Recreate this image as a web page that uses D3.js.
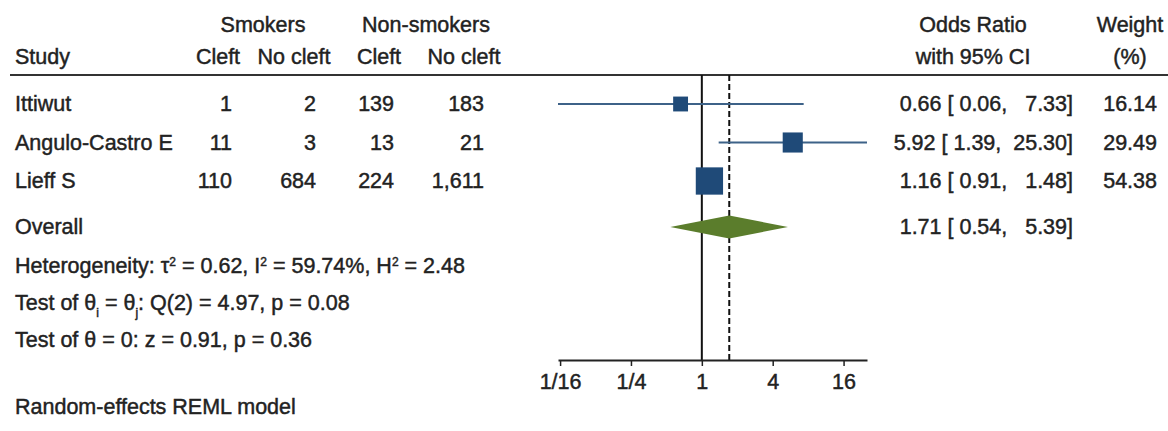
<!DOCTYPE html>
<html>
<head>
<meta charset="utf-8">
<script src="https://cdn.jsdelivr.net/npm/d3@7"></script>
<style>
  html, body { margin: 0; padding: 0; background: #fff; }
  svg { display: block; }
  text {
    font-family: "Liberation Sans", Arial, sans-serif;
    font-size: 21.5px;
    fill: #222;
    stroke: #222;
    stroke-width: 0.45px;
    white-space: pre;
  }
</style>
</head>
<body>
<svg id="chart" width="1168" height="431"></svg>
<script>
// Study-level counts
const studies = ["Ittiwut", "Angulo-Castro E", "Lieff S"];
const smokersCleft = [1, 11, 110];
const smokersNoCleft = [2, 3, 684];
const nonSmokersCleft = [139, 13, 224];
const nonSmokersNoCleft = [183, 21, 1611];

// Odds ratios with 95% CI and random-effects weights
const oddsRatio = [0.66, 5.92, 1.16];
const ciLower = [0.06, 1.39, 0.91];
const ciUpper = [7.33, 25.30, 1.48];
const weightPct = [16.14, 29.49, 54.38];

// Pooled estimate
const overallOR = 1.71;
const overallLower = 0.54;
const overallUpper = 5.39;

// Axis ticks
const tickValues = [1 / 16, 1 / 4, 1, 4, 16];
const tickLabels = ["1/16", "1/4", "1", "4", "16"];

const svg = d3.select("#chart");

// Log scale spans the full range of confidence limits
const x = d3.scaleLog()
  .domain([d3.min(ciLower), d3.max(ciUpper)])
  .range([558, 867]);

const rowY = d3.scalePoint().domain(studies).range([104, 181]);
const overallY = 227;
const plotTop = 75;
const axisY = 360;

const fmtInt = d3.format(",");
const fmt2 = d3.format(".2f");
const pad = (v, w) => fmt2(v).padStart(w, " ");

// Header
const header = svg.append("g");
const head = (tx, ty, s, anchor) =>
  header.append("text").attr("x", tx).attr("y", ty).attr("text-anchor", anchor || "middle").text(s);
head(263, 32, "Smokers");
head(426, 32, "Non-smokers");
head(15, 64, "Study", "start");
head(218, 64, "Cleft");
head(294, 64, "No cleft");
head(379, 64, "Cleft");
head(464, 64, "No cleft");
head(973, 32, "Odds Ratio");
head(973, 64, "with 95% CI");
head(1130, 32, "Weight");
head(1130, 64, "(%)");

svg.append("line")
  .attr("x1", 10).attr("x2", 1168)
  .attr("y1", plotTop).attr("y2", plotTop)
  .attr("stroke", "#333").attr("stroke-width", 2.2);

// Reference lines: null effect and pooled estimate
svg.append("line")
  .attr("x1", x(1)).attr("x2", x(1))
  .attr("y1", plotTop).attr("y2", axisY)
  .attr("stroke", "#111").attr("stroke-width", 2);
svg.append("line")
  .attr("x1", x(overallOR)).attr("x2", x(overallOR))
  .attr("y1", plotTop).attr("y2", axisY)
  .attr("stroke", "#111").attr("stroke-width", 2)
  .attr("stroke-dasharray", "6,3");

// Study rows
const rows = svg.append("g").selectAll("g")
  .data(studies.map((s, i) => ({ s, i })))
  .join("g")
  .attr("transform", d => `translate(0,${rowY(d.s)})`);

rows.append("text").attr("x", 15).attr("y", 7).text(d => d.s);
rows.append("text").attr("x", 232).attr("y", 7).attr("text-anchor", "end").text(d => fmtInt(smokersCleft[d.i]));
rows.append("text").attr("x", 316).attr("y", 7).attr("text-anchor", "end").text(d => fmtInt(smokersNoCleft[d.i]));
rows.append("text").attr("x", 394).attr("y", 7).attr("text-anchor", "end").text(d => fmtInt(nonSmokersCleft[d.i]));
rows.append("text").attr("x", 484).attr("y", 7).attr("text-anchor", "end").text(d => fmtInt(nonSmokersNoCleft[d.i]));

rows.append("line")
  .attr("x1", d => x(ciLower[d.i])).attr("x2", d => x(ciUpper[d.i]))
  .attr("y1", 0).attr("y2", 0)
  .attr("stroke", "#3d6288").attr("stroke-width", 2);

const side = d => 3.7 * Math.sqrt(weightPct[d.i]);
rows.append("rect")
  .attr("x", d => x(oddsRatio[d.i]) - side(d) / 2)
  .attr("y", d => -side(d) / 2)
  .attr("width", side).attr("height", side)
  .attr("fill", "#1f4a78");

// Effect-size column: "est [ lower,  upper]", right-aligned
function ciText(g, est, lo, hi) {
  g.append("text").attr("x", 1073).attr("y", 7).attr("text-anchor", "end")
    .text(`${fmt2(est)} [${pad(lo, 5)}, ${pad(hi, 6)}]`);
}
rows.each(function (d) {
  const g = d3.select(this);
  ciText(g, oddsRatio[d.i], ciLower[d.i], ciUpper[d.i]);
  g.append("text").attr("x", 1157).attr("y", 7).attr("text-anchor", "end").text(fmt2(weightPct[d.i]));
});

// Overall row with pooled diamond
const ov = svg.append("g").attr("transform", `translate(0,${overallY})`);
ov.append("text").attr("x", 15).attr("y", 7).text("Overall");
ov.append("path")
  .attr("d", d3.line()([
    [x(overallLower), 0], [x(overallOR), -11.5], [x(overallUpper), 0], [x(overallOR), 11.5]
  ]) + "Z")
  .attr("fill", "#5b7d2c");
ciText(ov, overallOR, overallLower, overallUpper);

// Heterogeneity and test statistics
function addSup(t, s) { t.append("tspan").attr("baseline-shift", "super").attr("font-size", "12px").text(s); }
function addSub(t, s) { t.append("tspan").attr("baseline-shift", "sub").attr("font-size", "12px").text(s); }

const het = svg.append("text").attr("x", 15).attr("y", 273);
het.append("tspan").text("Heterogeneity: τ");
addSup(het, "2");
het.append("tspan").text(" = 0.62, I");
addSup(het, "2");
het.append("tspan").text(" = 59.74%, H");
addSup(het, "2");
het.append("tspan").text(" = 2.48");

const t1 = svg.append("text").attr("x", 15).attr("y", 310);
t1.append("tspan").text("Test of θ");
addSub(t1, "i");
t1.append("tspan").text(" = θ");
addSub(t1, "j");
t1.append("tspan").text(": Q(2) = 4.97, p = 0.08");

svg.append("text").attr("x", 15).attr("y", 347).text("Test of θ = 0: z = 0.91, p = 0.36");

svg.append("text").attr("x", 15).attr("y", 414).text("Random-effects REML model");

// Log axis
const axis = svg.append("g")
  .attr("transform", `translate(0,${axisY})`)
  .call(d3.axisBottom(x)
    .tickValues(tickValues)
    .tickFormat((d, i) => tickLabels[i])
    .tickSize(6)
    .tickSizeOuter(0)
    .tickPadding(8));
axis.select(".domain").attr("stroke", "#222").attr("stroke-width", 2);
axis.selectAll(".tick line").attr("stroke", "#222").attr("stroke-width", 1.5);
axis.selectAll(".tick text")
  .attr("font-family", "Liberation Sans, Arial, sans-serif")
  .attr("font-size", 21.5).attr("fill", "#222");
</script>
</body>
</html>
